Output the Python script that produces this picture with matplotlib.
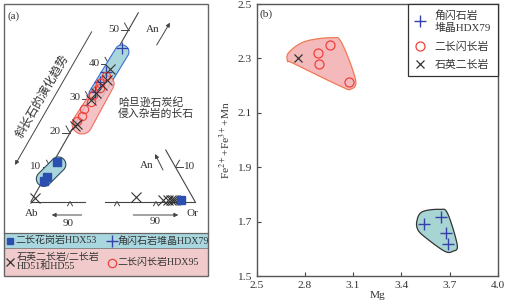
import numpy as np
import matplotlib.pyplot as plt
from matplotlib.patches import Polygon, Rectangle

plt.rcParams['font.family'] = ['Liberation Serif', 'Noto Sans CJK SC']
plt.rcParams['mathtext.fontset'] = 'stix'

#############################
# Data (a): feldspar An-Ab-Or (mol%)
#############################
# near Ab corner: (An, Or)
mz_an = [11.5, 7.1, 6.0]            # 二长花岗岩HDX53
mz_or = [0.8, 0.5, 0.3]
hb_an = [44.7, 37.8, 34.8, 31.9]    # 角闪石岩堆晶HDX79
hb_or = [0.9, 0.3, 0.3, 0.5]
md_an = [36.5, 34.5, 33.0, 31.0, 29.0, 27.0, 25.0, 23.5]   # 二长闪长岩HDX95
md_or = [1.0, 0.5, 1.2, 0.3, 0.8, 0.2, 0.6, 0.1]
qm_an = [38.5, 35.5, 34.0, 31.5, 29.5, 22.5, 22.0, 1.0]    # 石英二长岩/二长岩
qm_or = [0.9, 1.8, 1.2, 1.0, 0.6, 0.5, 0.2, 0.5]
# near Or corner: (An, Ab)
mz_r_an = [0.3]
mz_r_ab = [3.5]
qm_r_an = [1.3, 0.5, 0.5, 0.5, 0.5, 0.5]
qm_r_ab = [14.5, 8.0, 6.7, 5.9, 5.3, 4.8]

# field outlines (a): capsule ends (An, Or, radius)
red_field = [(22.6, 1.8, 10.0), (34.3, 2.1, 8.0)]
hb_field = [(31.3, 1.0, 7.0), (43.6, 1.5, 7.0)]
mz_field = [(6.6, 0.0, 7.5), (10.8, 1.6, 7.5)]

edge_ticks = [10, 20, 30, 40, 50]

#############################
# Data (b): amphibole
#############################
hb_mg = [3.54, 3.65, 3.68, 3.69]
hb_fe = [1.692, 1.718, 1.657, 1.618]
md_mg = [2.883, 2.887, 2.955, 3.075]
md_fe = [2.319, 2.279, 2.348, 2.213]
qm_mg = [2.755]
qm_fe = [2.300]

pink_mg = [2.700, 2.800, 2.966, 3.028, 3.115, 3.085, 3.017, 2.727, 2.693]
pink_fe = [2.322, 2.362, 2.376, 2.358, 2.222, 2.187, 2.199, 2.282, 2.290]
teal_mg = [3.497, 3.530, 3.639, 3.688, 3.748, 3.721, 3.670, 3.556, 3.504]
teal_fe = [1.702, 1.736, 1.745, 1.730, 1.614, 1.591, 1.591, 1.639, 1.669]

C_BLUE = '#2a4fb0'
C_PLUS = '#3541a8'
C_RED = '#f0403c'
C_X = '#333333'
C_TEAL = '#a8d6dc'
C_PINK = '#f4b9bb'
C_TXT = '#333333'

K_X, K_Y = 3.9, 3.43
AB0 = (31.0, 201.5)
OR0 = (195.0, 201.5)


def left(an, orr):
    an = np.asarray(an, float); orr = np.asarray(orr, float)
    return AB0[0] + K_X * (orr + an / 2), AB0[1] - K_Y * an


def right(an, ab):
    an = np.asarray(an, float); ab = np.asarray(ab, float)
    return OR0[0] - K_X * (ab + an / 2), OR0[1] - K_Y * an


def capsule(p1, p2, r1, r2, n=40):
    (x1, y1), (x2, y2) = p1, p2
    ang = np.arctan2(y2 - y1, x2 - x1)
    t1 = np.linspace(ang + np.pi / 2, ang + 3 * np.pi / 2, n)
    t2 = np.linspace(ang - np.pi / 2, ang + np.pi / 2, n)
    xs = np.r_[x1 + r1 * np.cos(t1), x2 + r2 * np.cos(t2)]
    ys = np.r_[y1 + r1 * np.sin(t1), y2 + r2 * np.sin(t2)]
    return np.column_stack([xs, ys])


def closed_spline(xs, ys, n=20):
    # Catmull-Rom through the outline vertices
    P = np.column_stack([xs, ys])
    N = len(P)
    t = np.linspace(0, 1, n, endpoint=False)[:, None]
    out = []
    for i in range(N):
        p0, p1, p2, p3 = P[i - 1], P[i], P[(i + 1) % N], P[(i + 2) % N]
        out.append(0.5 * (2 * p1 + (-p0 + p2) * t + (2 * p0 - 5 * p1 + 4 * p2 - p3) * t ** 2
                          + (-p0 + 3 * p1 - 3 * p2 + p3) * t ** 3))
    return np.vstack(out)


fig = plt.figure(figsize=(5.14, 3.07), dpi=100)

#############################
# Panel (a)
#############################
ax0 = fig.add_axes([0, 0, 210 / 514, 1])
ax0.set_xlim(0, 210)
ax0.set_ylim(307, 0)
ax0.axis('off')

ax0.add_patch(Rectangle((4, 233), 204, 14.5, fc='#a9d7e0', ec='none', zorder=0))
ax0.add_patch(Rectangle((4, 247.5), 204, 28.5, fc='#f1cbcb', ec='none', zorder=0))
ax0.add_patch(Rectangle((4, 4), 204, 272, fc='none', ec='#666666', lw=1.0, zorder=5))
ax0.plot([4, 208], [233, 233], color='#666666', lw=0.9)
ax0.plot([4, 208], [247.5, 247.5], color='#888888', lw=0.7)

lc = '#444444'
fs = 8
# edges
ex, ey = left([0, 55], [0, 0])
ax0.plot(ex, ey, color=lc, lw=0.8)
ex, ey = left([0, 0], [0, 13.8])
ax0.plot(ex, ey, color=lc, lw=0.8)
ex, ey = right([0, 0], [0, 23])
ax0.plot(ex, ey, color=lc, lw=0.8)
ex, ey = right([0, 15], [0, 0])
ax0.plot(ex, ey, color=lc, lw=0.8)

# ticks on Ab-An edge
for t in edge_ticks:
    tx, ty = left(t, 0)
    ax0.plot([tx - 8, tx], [ty, ty], color=lc, lw=0.7)
    ax0.plot([tx - 4, tx], [ty - 7, ty], color=lc, lw=0.7)
    ax0.text(tx - 9, ty - 1, str(t), fontsize=fs, ha='right', va='center', color=C_TXT)
# tick on Or-An edge
tx, ty = right(10, 0)
ax0.plot([tx, tx + 7], [ty, ty], color=lc, lw=0.7)
ax0.plot([tx, tx + 4], [ty, ty - 7], color=lc, lw=0.7)
ax0.text(tx + 8, ty - 1, '10', fontsize=fs, ha='left', va='center', color=C_TXT)
# ticks on base
for bx, by in [left(0, 10), right(0, 10), right(0, 20)]:
    ax0.plot([bx - 2.5, bx, bx + 2.5], [by + 4.3, by, by + 4.3], color=lc, lw=0.7)

# fields
p = capsule(left(*mz_field[0][:2]), left(*mz_field[1][:2]), mz_field[0][2], mz_field[1][2])
ax0.add_patch(Polygon(p, closed=True, fc=C_TEAL, ec='#2e4a5a', lw=0.8, zorder=2))
p = capsule(left(*hb_field[0][:2]), left(*hb_field[1][:2]), hb_field[0][2], hb_field[1][2])
ax0.add_patch(Polygon(p, closed=True, fc=C_TEAL, ec='#3d6fd0', lw=0.8, zorder=2))
p = capsule(left(*red_field[0][:2]), left(*red_field[1][:2]), red_field[0][2], red_field[1][2])
ax0.add_patch(Polygon(p, closed=True, fc=C_PINK, ec='#f05a48', lw=0.8, alpha=0.85, zorder=3))

# points
x, y = left(mz_an, mz_or)
ax0.plot(x, y, 's', color=C_BLUE, ms=5.5, ls='none', zorder=6)
x, y = right(mz_r_an, mz_r_ab)
ax0.plot(x, y, 's', color=C_BLUE, ms=5.5, ls='none', zorder=6)
x, y = left(hb_an, hb_or)
ax0.plot(x, y, '+', color=C_PLUS, ms=9, mew=0.9, ls='none', zorder=6)
x, y = left(md_an, md_or)
ax0.plot(x, y, 'o', mfc='none', mec=C_RED, ms=6, mew=0.8, ls='none', zorder=6)
x, y = left(qm_an, qm_or)
ax0.plot(x, y, 'x', color=C_X, ms=6.5, mew=0.8, ls='none', zorder=7)
x, y = right(qm_r_an, qm_r_ab)
ax0.plot(x, y, 'x', color=C_X, ms=6.5, mew=0.8, ls='none', zorder=5)

# arrows and labels
ap = dict(arrowstyle='-|>', color=lc, lw=0.7, mutation_scale=6, shrinkA=0, shrinkB=0)
ax0.annotate('', xy=(15, 165), xytext=(91.7, 31.7), arrowprops=ap)
ax0.text(42, 96, '斜长石的演化趋势', rotation=60, fontsize=8.5, ha='center', va='center', color=C_TXT)
ax0.annotate('', xy=(170, 22.7), xytext=(156.7, 45), arrowprops=ap)
ax0.text(153, 30, 'An', fontsize=fs, ha='center', va='center', color=C_TXT)
ax0.annotate('', xy=(155, 154), xytext=(163, 170), arrowprops=ap)
ax0.text(147, 166, 'An', fontsize=fs, ha='center', va='center', color=C_TXT)
ax0.text(118, 108, '哈旦逊石炭纪\n侵入杂岩的长石', fontsize=7.8, ha='left', va='center',
         color=C_TXT, linespacing=1.05)
ax0.annotate('', xy=(51.7, 215), xytext=(81.7, 215), arrowprops=ap)
ax0.text(68, 223, '90', fontsize=fs, ha='center', va='center', color=C_TXT)
ax0.annotate('', xy=(178.3, 215), xytext=(133.3, 215), arrowprops=ap)
ax0.text(155, 222, '90', fontsize=fs, ha='center', va='center', color=C_TXT)
ax0.text(31.5, 213, 'Ab', fontsize=fs, ha='center', va='center', color=C_TXT)
ax0.text(192, 213, 'Or', fontsize=fs, ha='center', va='center', color=C_TXT)
ax0.text(8, 16, '(a)', fontsize=fs, ha='left', va='center', color=C_TXT)

# legend band
lfs = 7.2
ax0.plot([10], [241], 's', color=C_BLUE, ms=5)
ax0.text(15, 241, '二长花岗岩HDX53', fontsize=lfs, ha='left', va='center', color=C_TXT)
ax0.plot([111.7], [241], '+', color=C_PLUS, ms=8, mew=1.0)
ax0.text(117, 241, '角闪石岩堆晶HDX79', fontsize=lfs, ha='left', va='center', color=C_TXT)
ax0.plot([10], [262], 'x', color=C_X, ms=5.5, mew=0.9)
ax0.text(17, 262, '石英二长岩/二长岩\nHD51和HD55', fontsize=lfs, ha='left', va='center',
         color=C_TXT, linespacing=0.95)
ax0.plot([111.7], [262.7], 'o', mfc='none', mec=C_RED, ms=6, mew=0.9)
ax0.text(117, 262.7, '二长闪长岩HDX95', fontsize=lfs, ha='left', va='center', color=C_TXT)

#############################
# Panel (b)
#############################
ax1 = fig.add_axes([256.7 / 514, 31 / 307, 241 / 514, 272 / 307])
ax1.set_xlim(2.5, 4.0)
ax1.set_ylim(1.5, 2.5)

p = closed_spline(pink_mg, pink_fe)
ax1.add_patch(Polygon(p, closed=True, fc=C_PINK, ec='#f07a52', lw=0.9, zorder=1))
p = closed_spline(teal_mg, teal_fe)
ax1.add_patch(Polygon(p, closed=True, fc='#a7d5d3', ec='#333333', lw=0.9, zorder=1))

ax1.plot(hb_mg, hb_fe, '+', color=C_PLUS, ms=9, mew=1.0, ls='none', zorder=3,
         label='角闪石岩\n堆晶HDX79')
ax1.plot(md_mg, md_fe, 'o', mfc='none', mec=C_RED, ms=6.5, mew=0.9, ls='none', zorder=3,
         label='二长闪长岩')
ax1.plot(qm_mg, qm_fe, 'x', color=C_X, ms=6, mew=0.9, ls='none', zorder=3,
         label='石英二长岩')

leg = ax1.legend(loc='upper right', bbox_to_anchor=(1.0, 1.0), borderaxespad=0,
                 fancybox=False, edgecolor='#333333', fontsize=7.8, handlelength=1.0,
                 handletextpad=0.9, labelspacing=0.75, borderpad=0.6, framealpha=1)
leg.get_frame().set_linewidth(0.9)
for t in leg.get_texts():
    t.set_color(C_TXT)

ax1.set_xticks([2.5, 2.8, 3.1, 3.4, 3.7, 4.0])
ax1.set_yticks([1.5, 1.7, 1.9, 2.1, 2.3, 2.5])
ax1.xaxis.set_major_formatter(plt.FormatStrFormatter('%.1f'))
ax1.yaxis.set_major_formatter(plt.FormatStrFormatter('%.1f'))
ax1.tick_params(direction='in', length=3, width=0.8, labelsize=8.2, colors='#444444',
                labelcolor=C_TXT)
for s in ax1.spines.values():
    s.set_color('#555555')
    s.set_linewidth(1.0)

ax1.set_xlabel('Mg', fontsize=8.2, color=C_TXT)
ax1.set_ylabel(r'Fe$^{2+}$+Fe$^{3+}$+Mn', fontsize=8.2, color=C_TXT)
ax1.xaxis.set_label_coords(0.5, -0.055)
ax1.yaxis.set_label_coords(-0.1, 0.5)
ax1.text(0.012, 0.963, '(b)', transform=ax1.transAxes, fontsize=8.2, va='center', color=C_TXT)

fig.savefig('out.png', dpi=100)
